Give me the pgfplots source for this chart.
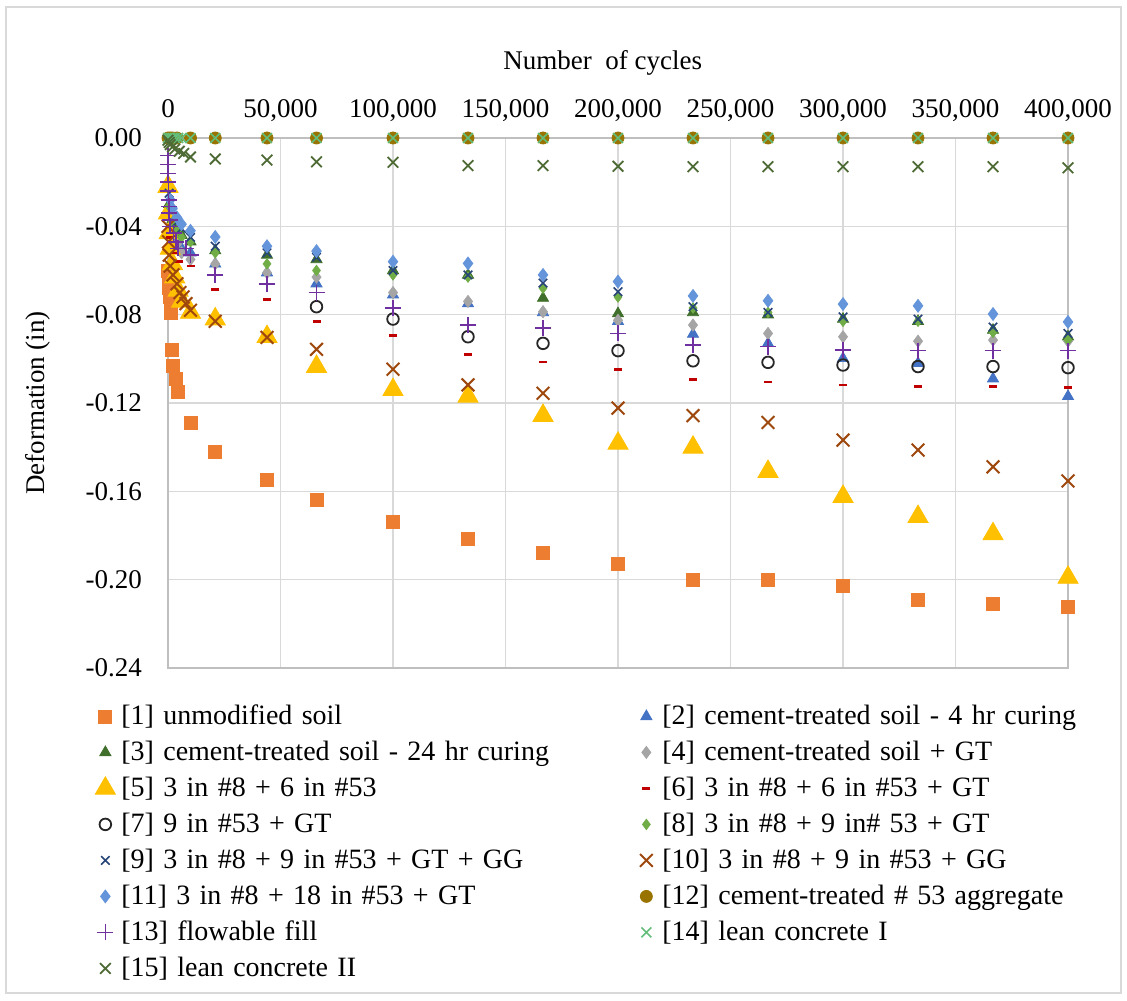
\documentclass[border=0pt]{standalone}
\usepackage{pgfplots}
\pgfplotsset{compat=1.18}
\usepackage{fontspec}
\setmainfont{Liberation Serif}
\definecolor{c1}{HTML}{ED7D31}
\definecolor{c2}{HTML}{4472C4}
\definecolor{c3}{HTML}{3F6F2A}
\definecolor{c4}{HTML}{A5A5A5}
\definecolor{c5}{HTML}{FFC000}
\definecolor{c6}{HTML}{C00000}
\definecolor{c7}{HTML}{262626}
\definecolor{c8}{HTML}{70AD47}
\definecolor{c9}{HTML}{264478}
\definecolor{c10}{HTML}{9E480E}
\definecolor{c11}{HTML}{6495DB}
\definecolor{c12}{HTML}{997300}
\definecolor{c13}{HTML}{7030A0}
\definecolor{c14}{HTML}{63BE7B}
\definecolor{c15}{HTML}{4E6B35}
\pgfplotsset{mk/.style={only marks, legend image code/.code={\path[draw=none,fill=none] (-7pt,-5pt) -- (7pt,5pt); \draw[mark repeat=2,mark phase=2] plot coordinates {(-7pt,0pt)(0pt,0pt)(7pt,0pt)};}}}
\begin{document}
\begin{tikzpicture}
\path[use as bounding box] (0,0) rectangle (563.5pt,500pt);
\draw[black!15, line width=0.6pt] (3pt,3.5pt) rectangle (560.5pt,496.5pt);
\begin{axis}[
  at={(84pt,166pt)}, anchor=south west,
  scale only axis, width=450pt, height=265pt,
  xmin=0, xmax=400000, ymin=-0.24, ymax=0,
  clip=false,
  axis line style={draw=black!25, line width=0.6pt},
  xtick={0,50000,100000,150000,200000,250000,300000,350000,400000},
  ytick={-0.24,-0.2,-0.16,-0.12,-0.08,-0.04,0},
  grid=major, grid style={draw=black!15, line width=0.6pt},
  major tick length=0pt,
  xticklabel pos=upper,
  scaled x ticks=false, scaled y ticks=false,
  /pgf/number format/assume math mode=true,
  tick label style={font=\fontsize{13.5}{16}\selectfont},
  xticklabel style={/pgf/number format/.cd, fixed, 1000 sep={,}, /tikz/.cd, anchor=base, yshift=10.25pt},
  yticklabel style={/pgf/number format/.cd, fixed, fixed zerofill, precision=2, /tikz/.cd, anchor=east, xshift=-9.5pt},
  xlabel={Number\ \ of cycles},
  xlabel style={at={(axis description cs:0.483,1.1415)}, anchor=center, font=\fontsize{13.5}{16}\selectfont},
  ylabel={Deformation (in)},
  ylabel style={at={(axis description cs:-0.1444,0.5)}, anchor=center, font=\fontsize{13.5}{16}\selectfont},
  legend columns=2,
  legend cell align=left,
  legend style={at={(-0.0856,-0.0604)}, anchor=north west, draw=none, fill=none, inner sep=0pt,
    font=\fontsize{14}{16}\selectfont,
    nodes={inner xsep=1pt, inner ysep=0pt, text height=12pt, text depth=4pt, text width=254.5pt, align=left},
    row sep=2pt},
]
% [1]
\addplot[mk, mark=square*, mark size=3.25pt, color=c1] coordinates {
(0,-0.060)(300,-0.064)(600,-0.068)(900,-0.072)(1200,-0.076)(1500,-0.079)(1800,-0.096)(2200,-0.103)(3500,-0.109)(4400,-0.115)
(10000,-0.129)(21000,-0.142)(44000,-0.155)(66000,-0.164)(100000,-0.174)(133333,-0.1815)(166667,-0.188)(200000,-0.193)(233333,-0.200)(266667,-0.200)(300000,-0.203)(333333,-0.209)(366667,-0.211)(400000,-0.2125)};
\addlegendentry{[1] unmodified soil}
% [2]
\addplot[mk, mark=triangle*, mark size=3.2pt, color=c2] coordinates {
(500,-0.034)(2000,-0.042)(4000,-0.047)(6000,-0.050)
(10000,-0.052)(21000,-0.057)(44000,-0.061)(66000,-0.066)(100000,-0.071)(133333,-0.075)(166667,-0.079)(200000,-0.083)(233333,-0.0888)(266667,-0.093)(300000,-0.0998)(333333,-0.102)(366667,-0.109)(400000,-0.117)};
\addlegendentry{[2] cement-treated soil - 4 hr curing}
% [3]
\addplot[mk, mark=triangle*, mark size=3.2pt, color=c3] coordinates {
(500,-0.030)(2000,-0.037)(4000,-0.041)(6000,-0.044)
(10000,-0.047)(21000,-0.051)(44000,-0.053)(66000,-0.055)(100000,-0.060)(133333,-0.062)(166667,-0.0725)(200000,-0.0795)(233333,-0.079)(266667,-0.080)(300000,-0.082)(333333,-0.083)(366667,-0.087)(400000,-0.090)};
\addlegendentry{[3] cement-treated soil - 24 hr curing}
% [4]
\addplot[mk, mark=diamond*, mark size=3pt, color=c4] coordinates {
(500,-0.035)(2000,-0.043)(4000,-0.048)(6000,-0.052)
(10000,-0.055)(21000,-0.057)(44000,-0.061)(66000,-0.063)(100000,-0.070)(133333,-0.074)(166667,-0.0787)(200000,-0.0825)(233333,-0.0847)(266667,-0.0885)(300000,-0.090)(333333,-0.092)(366667,-0.0915)(400000,-0.092)};
\addlegendentry{[4] cement-treated soil + GT}
% [5]
\addplot[mk, mark=triangle*, mark size=5.8pt, color=c5] coordinates {
(0,-0.022)(200,-0.034)(500,-0.043)(1000,-0.050)(2000,-0.057)(3000,-0.063)(4500,-0.069)(6000,-0.074)
(10000,-0.079)(21000,-0.082)(44000,-0.090)(66000,-0.1035)(100000,-0.114)(133333,-0.117)(166667,-0.1257)(200000,-0.1383)(233333,-0.1401)(266667,-0.1511)(300000,-0.1624)(333333,-0.1715)(366667,-0.1793)(400000,-0.199)};
\addlegendentry{[5] 3 in \#8 + 6 in \#53}
% [6]
\addplot[mk, mark=-, mark size=2pt, line width=1.3pt, color=c6] coordinates {
(1000,-0.045)(3000,-0.052)(5000,-0.056)
(10000,-0.058)(21000,-0.0685)(44000,-0.073)(66000,-0.083)(100000,-0.0895)(133333,-0.098)(166667,-0.1015)(200000,-0.1047)(233333,-0.1093)(266667,-0.1105)(300000,-0.1118)(333333,-0.1126)(366667,-0.1126)(400000,-0.113)};
\addlegendentry{[6] 3 in \#8 + 6 in \#53 + GT}
% [7]
\addplot[mk, mark=o, mark size=2.9pt, line width=0.9pt, color=c7] coordinates {
(66000,-0.0764)(100000,-0.082)(133333,-0.090)(166667,-0.093)(200000,-0.0963)(233333,-0.1009)(266667,-0.1016)(300000,-0.1028)(333333,-0.1035)(366667,-0.1035)(400000,-0.104)};
\addlegendentry{[7] 9 in \#53 + GT}
% [8]
\addplot[mk, mark=diamond*, mark size=2.6pt, color=c8] coordinates {
(500,-0.031)(2000,-0.038)(4000,-0.042)(6000,-0.045)
(10000,-0.047)(21000,-0.052)(44000,-0.057)(66000,-0.060)(100000,-0.062)(133333,-0.063)(166667,-0.068)(200000,-0.072)(233333,-0.077)(266667,-0.079)(300000,-0.083)(333333,-0.083)(366667,-0.088)(400000,-0.0915)};
\addlegendentry{[8] 3 in \#8 + 9 in\# 53 + GT}
% [9]
\addplot[mk, mark=x, mark size=3pt, line width=0.8pt, color=c9] coordinates {
(500,-0.025)(2000,-0.033)(4000,-0.038)(6000,-0.041)
(10000,-0.045)(21000,-0.049)(44000,-0.052)(66000,-0.054)(100000,-0.060)(133333,-0.062)(166667,-0.0657)(200000,-0.0696)(233333,-0.0764)(266667,-0.079)(300000,-0.081)(333333,-0.082)(366667,-0.0856)(400000,-0.0885)};
\addlegendentry{[9] 3 in \#8 + 9 in \#53 + GT + GG}
% [10]
\addplot[mk, mark=x, mark size=4.5pt, line width=1pt, color=c10] coordinates {
(0,-0.040)(200,-0.047)(500,-0.053)(1000,-0.058)(2200,-0.062)(4000,-0.066)(5300,-0.070)(6700,-0.072)(8000,-0.075)
(10000,-0.078)(21000,-0.083)(44000,-0.0903)(66000,-0.0957)(100000,-0.1047)(133333,-0.1118)(166667,-0.1156)(200000,-0.1223)(233333,-0.1257)(266667,-0.1288)(300000,-0.1368)(333333,-0.1413)(366667,-0.1489)(400000,-0.1553)};
\addlegendentry{[10] 3 in \#8 + 9 in \#53 + GG}
% [11]
\addplot[mk, mark=diamond*, mark size=3.2pt, color=c11] coordinates {
(1000,-0.028)(2000,-0.032)(4000,-0.036)(6000,-0.039)
(10000,-0.042)(21000,-0.0448)(44000,-0.049)(66000,-0.0512)(100000,-0.056)(133333,-0.0568)(166667,-0.062)(200000,-0.065)(233333,-0.0715)(266667,-0.0737)(300000,-0.0752)(333333,-0.076)(366667,-0.0797)(400000,-0.0833)};
\addlegendentry{[11] 3 in \#8 + 18 in \#53 + GT}
% [12]
\addplot[mk, mark=*, mark size=3pt, color=c12] coordinates {
(0,0)(1000,0)(2000,0)(4000,0)
(10000,0)(21000,0)(44000,0)(66000,0)(100000,0)(133333,0)(166667,0)(200000,0)(233333,0)(266667,0)(300000,0)(333333,0)(366667,0)(400000,0)};
\addlegendentry{[12] cement-treated \# 53 aggregate}
% [13]
\addplot[mk, mark=+, mark size=4pt, line width=0.8pt, color=c13] coordinates {
(0,-0.008)(50,-0.012)(100,-0.016)(150,-0.020)(200,-0.024)(300,-0.028)(400,-0.031)(500,-0.034)(700,-0.037)(1000,-0.040)(2500,-0.043)(3500,-0.047)(4500,-0.050)(8000,-0.050)
(10000,-0.053)(21000,-0.062)(44000,-0.066)(66000,-0.070)(100000,-0.077)(133333,-0.0847)(166667,-0.086)(200000,-0.0885)(233333,-0.0937)(266667,-0.0945)(300000,-0.096)(333333,-0.0963)(366667,-0.0963)(400000,-0.0963)};
\addlegendentry{[13] flowable fill}
% [14]
\addplot[mk, mark=x, mark size=3.5pt, line width=0.8pt, color=c14] coordinates {
(0,0)(1000,0)(2000,0)(3000,0)(4500,0)(6000,0)
(10000,0)(21000,0)(44000,0)(66000,0)(100000,0)(133333,0)(166667,0)(200000,0)(233333,0)(266667,0)(300000,0)(333333,0)(366667,0)(400000,0)};
\addlegendentry{[14] lean concrete I}
% [15]
\addplot[mk, mark=x, mark size=3.75pt, line width=0.9pt, color=c15] coordinates {
(0,-0.001)(500,-0.002)(1000,-0.003)(2000,-0.004)(3000,-0.005)(5000,-0.006)(7000,-0.007)
(10000,-0.0086)(21000,-0.0095)(44000,-0.010)(66000,-0.0108)(100000,-0.011)(133333,-0.0125)(166667,-0.0125)(200000,-0.0128)(233333,-0.013)(266667,-0.013)(300000,-0.013)(333333,-0.013)(366667,-0.013)(400000,-0.0135)};
\addlegendentry{[15] lean concrete II}
\end{axis}
\end{tikzpicture}
\end{document}
